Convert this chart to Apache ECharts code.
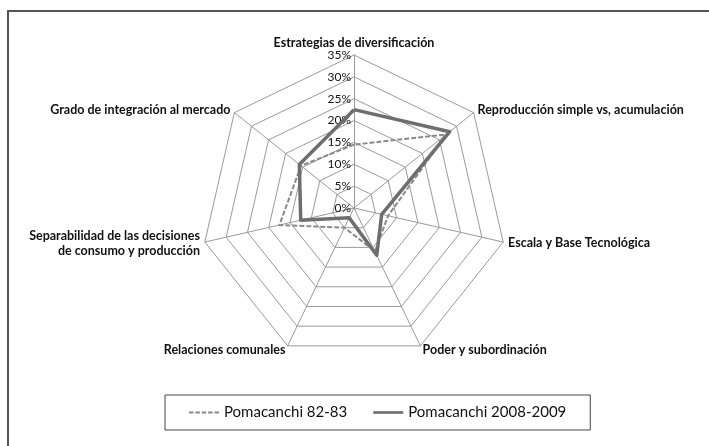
<!DOCTYPE html>
<html>
<head>
<meta charset="utf-8">
<script src="https://cdn.jsdelivr.net/npm/echarts@6/dist/echarts.min.js"></script>
<style>
    html, body { margin: 0; padding: 0; background: #fff; }
    #radar_chart { width: 709px; height: 446px; }
</style>
</head>
<body>
<div id="radar_chart"></div>
<script>
// axes, clockwise from the top
var categories = [
    'Estrategias de diversificación',
    'Reproducción simple vs, acumulación',
    'Escala y Base Tecnológica',
    'Poder y subordinación',
    'Relaciones comunales',
    'Separabilidad de las decisiones\nde consumo y producción',
    'Grado de integración al mercado'
];
var seriesNames = ['Pomacanchi 82-83', 'Pomacanchi 2008-2009'];
var values8283 = [14.5, 27, 8, 11, 5, 17.5, 15.5];
var values2008 = [22.5, 28, 6.5, 12, 2.5, 12.5, 16];
var maxValue = 35;
var tickStep = 5;

// echarts draws radar axes counter-clockwise, so reorder
function ccw(arr) {
    var out = [arr[0]];
    for (var i = arr.length - 1; i > 0; i--) out.push(arr[i]);
    return out;
}

function radar_draw() {
    var chart = echarts.init(document.getElementById('radar_chart'));

    var dashIcon = 'path://M0,0h5v2h-5z M7,0h5v2h-5z M14,0h5v2h-5z M21,0h5v2h-5z M28,0h5v2h-5z';
    var lineIcon = 'path://M0,0h34v3h-34z';

    var option = {
        backgroundColor: '#fff',
        textStyle: { fontFamily: 'Lato' },
        graphic: [{
            type: 'rect',
            shape: { x: 8, y: 11, width: 720, height: 460 },
            style: { fill: 'none', stroke: '#555', lineWidth: 2 }
        }],
        legend: {
            left: 165,
            top: 395,
            padding: [10, 24, 10, 24],
            borderColor: '#444',
            borderWidth: 1,
            itemGap: 26,
            itemWidth: 30,
            itemHeight: 3,
            textStyle: { color: '#111', fontSize: 15, fontFamily: 'Lato' },
            data: [
                { name: seriesNames[0], icon: dashIcon, itemStyle: { color: '#8a8a8a' } },
                { name: seriesNames[1], icon: lineIcon, itemStyle: { color: '#6e6e6e' } }
            ]
        },
        radar: {
            center: [354, 208],
            radius: 153,
            startAngle: 90,
            splitNumber: maxValue / tickStep,
            shape: 'polygon',
            axisNameGap: 5,
            axisName: { color: '#111', fontSize: 12.5, fontWeight: 'bold', fontFamily: 'Lato', lineHeight: 15 },
            indicator: ccw(categories).map(function (c) { return { name: c, min: 0, max: maxValue }; }),
            axisLine: { lineStyle: { color: '#9a9a9a', width: 1 } },
            splitLine: { lineStyle: { color: '#9a9a9a', width: 1 } },
            splitArea: { show: false }
        },
        polar: { center: [354, 208], radius: 153 },
        angleAxis: { show: false, startAngle: 90, min: 0, max: 360 },
        radiusAxis: {
            min: 0,
            max: maxValue,
            interval: tickStep,
            axisLine: { show: false },
            axisTick: { show: false },
            splitLine: { show: false },
            axisLabel: { formatter: '{value}%', color: '#111', fontSize: 12, fontFamily: 'Lato', margin: 3 }
        },
        series: [{
            type: 'radar',
            symbol: 'none',
            data: [
                {
                    name: seriesNames[0],
                    value: ccw(values8283),
                    lineStyle: { color: '#8a8a8a', width: 2, type: [5, 2] },
                    itemStyle: { color: '#8a8a8a' }
                },
                {
                    name: seriesNames[1],
                    value: ccw(values2008),
                    lineStyle: { color: '#6e6e6e', width: 3.5 },
                    itemStyle: { color: '#6e6e6e' }
                }
            ]
        }]
    };

    chart.setOption(option);
    window.onresize = chart.resize;
}

radar_draw();
</script>
</body>
</html>
